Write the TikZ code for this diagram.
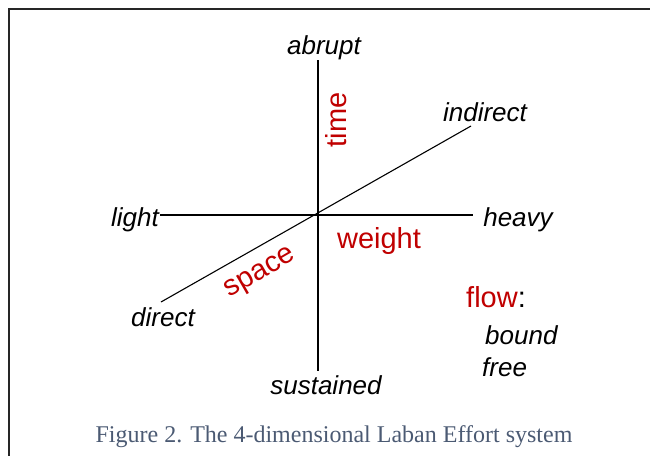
\documentclass[tikz,border=0pt]{standalone}
\usepackage{fontspec}
\setmainfont{Liberation Serif}
\setsansfont{Liberation Sans}
\usepackage{xcolor}
\usetikzlibrary{positioning}
\definecolor{dimred}{RGB}{192,0,0}
\definecolor{capblue}{RGB}{75,90,115}

\begin{document}
\begin{tikzpicture}[x=1pt, y=-1pt,
    pole/.style={font=\sffamily\itshape\fontsize{26}{29}\selectfont, inner sep=0pt, anchor=base},
    dimname/.style={font=\sffamily\fontsize{29}{32}\selectfont, text=dimred, inner sep=0pt},
    axis/.style={line width=1.1pt, black},
    frameline/.style={line width=2pt, black!85}
]
    \useasboundingbox (0,0) rectangle (650,455);

    % Frame
    \draw[frameline] (9,460) -- (9,9) -- (660,9);

    % Axis ends
    \coordinate (t1) at (318,60);
    \coordinate (t2) at (318,371);
    \coordinate (w1) at (160,215);
    \coordinate (w2) at (473,215);
    \coordinate (s1) at (161,302);
    \coordinate (s2) at (471,126);

    % Axes
    \draw[axis] (t1) -- (t2);
    \draw[axis] (w1) -- (w2);
    \draw[axis] (s1) -- (s2);

    % Poles
    \node[pole] (abrupt) at (324,54) {abrupt};
    \node[pole] (sust) at (326,394) {sustained};
    \node[pole] (light) at (135,226) {light};
    \node[pole] (heavy) at (518,226) {heavy};
    \node[pole] (indir) at (485,121) {indirect};
    \node[pole] (direct) at (163,326) {direct};

    % Dimension names
    \node[dimname, rotate=90] (time) at (336,120) {time};
    \node[dimname, anchor=base] (weight) at (379,248) {weight};
    \node[dimname, rotate=30] (space) at (261,274) {space};

    % Flow
    \node[dimname, anchor=base west] (flow) at (466,307) {flow\textcolor{black}{:}};
    \node[pole, anchor=base west] (bound) at (485,344) {bound};
    \node[pole, anchor=base west] (free) at (482,376) {free};

    % Caption
    \node[font=\fontsize{24}{28}\selectfont, text=capblue, inner sep=0pt, anchor=base] (cap) at (334,442) {Figure 2. The 4-dimensional Laban Effort system};
\end{tikzpicture}
\end{document}
